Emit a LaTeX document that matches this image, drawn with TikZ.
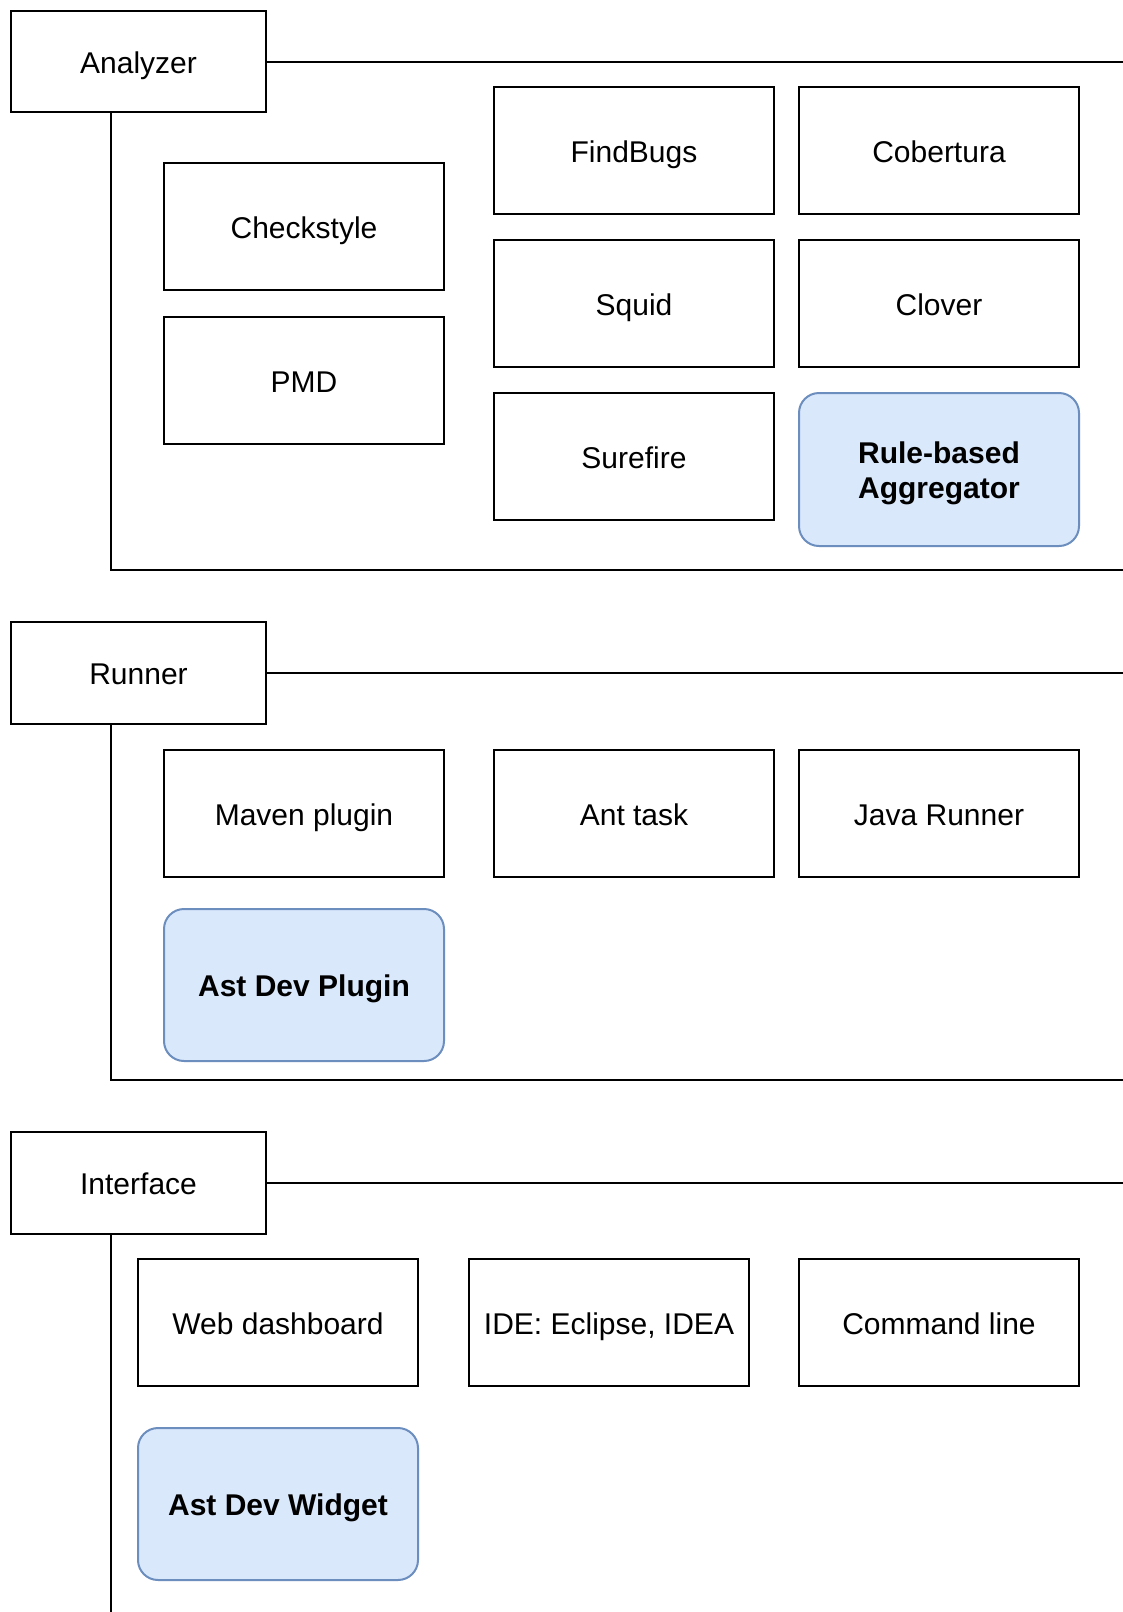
\documentclass[tikz,border=0pt]{standalone}
\usepackage{fontspec}
\setmainfont{Liberation Sans}
\definecolor{bfill}{HTML}{DAE8FC}
\definecolor{bdraw}{HTML}{6C8EBF}
\begin{document}
\begin{tikzpicture}[x=1pt,y=-1pt,
  base/.style={draw=black,line width=2pt,inner sep=0pt,anchor=north west,font=\fontsize{30}{35}\selectfont,align=center},
  box/.style={base,text height=27pt,text depth=4pt},
  hbase/.style={base,fill=bfill,draw=bdraw,rounded corners=20pt,font=\fontsize{30}{35}\selectfont\bfseries},
  hbox/.style={hbase,text height=27pt,text depth=4pt},
  wire/.style={draw=black,line width=2pt}]
\useasboundingbox (0,0) rectangle (1123,1612);
\fill[white] (0,0) rectangle (1123,1612);
% Analyzer section
\node[box,minimum width=255pt,minimum height=101pt] (an) at (10,10) {Analyzer};
\node[box,minimum width=280pt,minimum height=127pt] (cs) at (163,162) {Checkstyle};
\node[box,minimum width=280pt,minimum height=127pt] (pmd) at (163,316) {PMD};
\node[box,minimum width=280pt,minimum height=127pt] (fb) at (493,86) {FindBugs};
\node[box,minimum width=280pt,minimum height=127pt] (cob) at (798,86) {Cobertura};
\node[box,minimum width=280pt,minimum height=127pt] (sq) at (493,239) {Squid};
\node[box,minimum width=280pt,minimum height=127pt] (clo) at (798,239) {Clover};
\node[box,minimum width=280pt,minimum height=127pt] (sf) at (493,392) {Surefire};
\node[hbase,minimum width=280pt,minimum height=153pt,text height=63pt,text depth=6pt] (rba) at (798,392) {Rule-based\\Aggregator};
\coordinate (aR) at (1123,0);
\coordinate (aC) at (111,570);
\draw[wire] (an.east) -- (an.east -| aR);
\draw[wire] (an.south -| aC) -- (aC) -- (aC -| aR);
% Runner section
\node[box,minimum width=255pt,minimum height=102pt] (ru) at (10,621) {Runner};
\node[box,minimum width=280pt,minimum height=127pt] (mvn) at (163,749) {Maven plugin};
\node[box,minimum width=280pt,minimum height=127pt] (ant) at (493,749) {Ant task};
\node[box,minimum width=280pt,minimum height=127pt] (jr) at (798,749) {Java Runner};
\node[hbox,minimum width=280pt,minimum height=152pt] (adp) at (163,908) {Ast Dev Plugin};
\coordinate (rC) at (111,1080);
\draw[wire] (ru.east) -- (ru.east -| aR);
\draw[wire] (ru.south -| rC) -- (rC) -- (rC -| aR);
% Interface section
\node[box,minimum width=255pt,minimum height=102pt] (in) at (10,1131) {Interface};
\node[box,minimum width=280pt,minimum height=127pt] (web) at (137,1258) {Web dashboard};
\node[box,minimum width=280pt,minimum height=127pt] (ide) at (468,1258) {IDE: Eclipse, IDEA};
\node[box,minimum width=280pt,minimum height=127pt] (cmd) at (798,1258) {Command line};
\node[hbox,minimum width=280pt,minimum height=152pt] (adw) at (137,1427) {Ast Dev Widget};
\coordinate (iC) at (111,1612);
\draw[wire] (in.east) -- (in.east -| aR);
\draw[wire] (in.south -| iC) -- (iC);
\end{tikzpicture}
\end{document}
